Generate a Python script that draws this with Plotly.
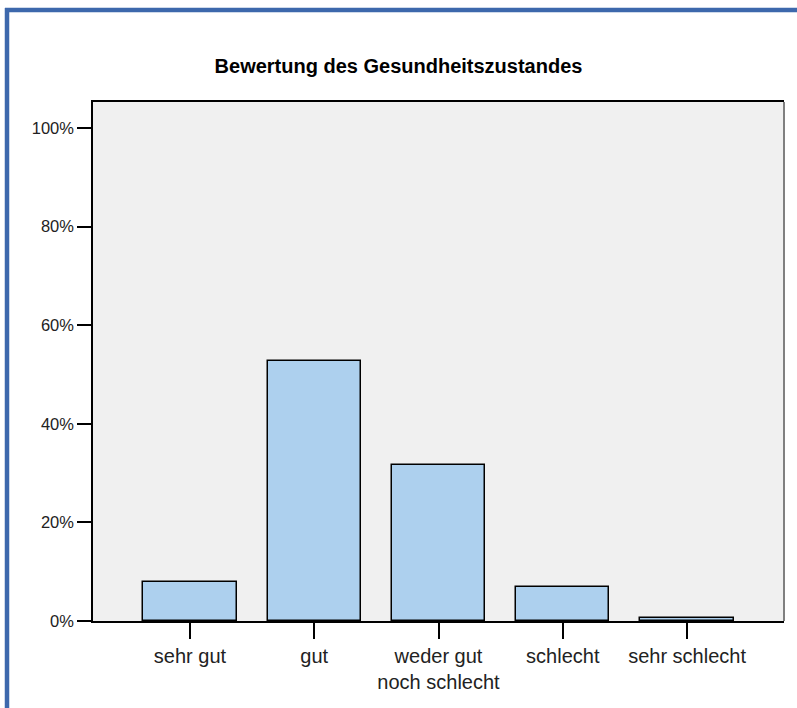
import plotly.graph_objects as go

categories = ["sehr gut", "gut", "weder gut<br>noch schlecht", "schlecht", "sehr schlecht"]
percent = [7.9, 52.7, 31.6, 7.0, 0.6]
y_ticks = [0, 20, 40, 60, 80, 100]
title_text = "Bewertung des Gesundheitszustandes"

W, H = 797, 708
L, R, T, B = 93, 13, 102, 87
pw = W - L - R
ph = H - T - B

def px_x(x):
    return (x - L) / pw

def px_y(y):
    return 1 - (y - T) / ph

fig = go.Figure(go.Bar(
    x=list(range(len(categories))),
    y=percent,
    width=0.75,
    marker=dict(color="#ADD0EE", line=dict(color="black", width=1.5)),
    hoverinfo="skip",
))

frame_blue = "#3D68AC"
fig.update_layout(
    width=W, height=H,
    margin=dict(l=L, r=R, t=T, b=B),
    paper_bgcolor="white",
    plot_bgcolor="#F0F0F0",
    showlegend=False,
    bargap=0,
    font=dict(family="Liberation Sans, Arial, sans-serif", color="black"),
    title=dict(text="<b>" + title_text + "</b>", x=0.5, xref="container",
               y=1 - 66 / H, yref="container", yanchor="middle", xanchor="center",
               font=dict(size=20, color="black")),
    xaxis=dict(
        range=[-0.78, 4.78],
        tickmode="array",
        tickvals=list(range(len(categories))),
        ticktext=categories,
        ticks="outside", ticklen=16, tickwidth=1.5, tickcolor="black",
        tickfont=dict(size=20, color="#222"),
        showline=True, linecolor="black", linewidth=1.5, mirror=True,
        showgrid=False, zeroline=False,
    ),
    yaxis=dict(
        range=[0, 105.3],
        tickmode="array",
        tickvals=y_ticks,
        ticktext=[f"{v}%" for v in y_ticks],
        ticks="outside", ticklen=14, tickwidth=1.5, tickcolor="black",
        tickfont=dict(size=16.5, color="#222"),
        showline=True, linecolor="black", linewidth=1.5,
        showgrid=False, zeroline=False,
    ),
    shapes=[
        # gray right border of plot area
        dict(type="line", xref="paper", yref="paper", x0=1, x1=1, y0=0, y1=1,
             line=dict(color="#808080", width=2)),
        # blue frame top
        dict(type="line", xref="paper", yref="paper",
             x0=px_x(5), x1=px_x(W + 5), y0=px_y(10), y1=px_y(10),
             line=dict(color=frame_blue, width=4.5)),
        # blue frame left
        dict(type="line", xref="paper", yref="paper",
             x0=px_x(7), x1=px_x(7), y0=px_y(8), y1=px_y(H + 5),
             line=dict(color=frame_blue, width=4.5)),
    ],
)

fig.write_html("out.html",
               config={"displayModeBar": False},
               post_script="document.body.style.margin='0';document.body.style.padding='0';")
